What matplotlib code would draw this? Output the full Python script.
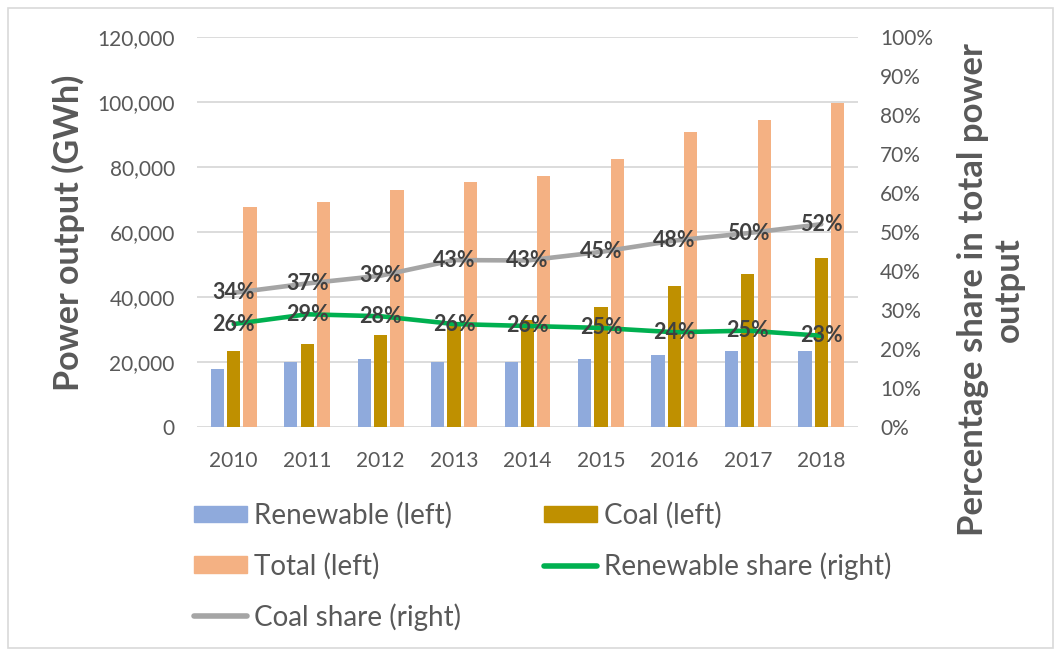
import matplotlib
matplotlib.use('Agg')
import matplotlib.pyplot as plt
import numpy as np
from matplotlib.patches import Patch, Rectangle
from matplotlib.lines import Line2D
from matplotlib.ticker import FuncFormatter

plt.rcParams['font.family'] = ['Lato', 'DejaVu Sans']

# data
years = ['2010', '2011', '2012', '2013', '2014', '2015', '2016', '2017', '2018']
renewable = [17800, 20000, 20900, 20000, 20000, 21000, 22050, 23300, 23400]
coal = [23400, 25500, 28300, 32200, 33000, 36800, 43400, 47000, 51900]
total = [67700, 69200, 73000, 75300, 77200, 82400, 90800, 94400, 99700]
renew_share = [0.264, 0.289, 0.284, 0.264, 0.259, 0.254, 0.243, 0.247, 0.234]
coal_share = [0.344, 0.368, 0.388, 0.428, 0.427, 0.449, 0.478, 0.497, 0.520]

c_ren = '#8FAADC'
c_coal = '#BF9000'
c_tot = '#F4B183'
c_green = '#00B050'
c_gray = '#A5A5A5'
c_txt = '#595959'
c_lab = '#404040'

fig = plt.figure(figsize=(10.61, 6.52), dpi=100)
fig.patches.append(Rectangle((8/1061, 4/652), 1045/1061, 640/652, transform=fig.transFigure,
                             fill=False, edgecolor='#D9D9D9', linewidth=1.2))

ax = fig.add_axes([197/1061, 1-427/652, 661/1061, 390/652])
x = np.arange(len(years))
w = 0.18
off = 0.222
ax.bar(x - off, renewable, w, color=c_ren, zorder=2)
ax.bar(x, coal, w, color=c_coal, zorder=2)
ax.bar(x + off, total, w, color=c_tot, zorder=2)

ax.set_xlim(-0.5, len(years) - 0.5)
ax.set_ylim(0, 120000)
ax.set_yticks(np.arange(0, 120001, 20000))
ax.yaxis.set_major_formatter(FuncFormatter(lambda v, p: f'{int(v):,}'))
ax.set_xticks(x)
ax.set_xticklabels(years)
ax.grid(axis='y', color='#D9D9D9', linewidth=1.3, zorder=0)
ax.set_axisbelow(True)
for s in ax.spines.values():
    s.set_visible(False)
ax.tick_params(axis='both', length=0, labelsize=15, labelcolor=c_txt)
ax.tick_params(axis='y', pad=16)
ax.tick_params(axis='x', pad=17)

fig.text(68/1061, 1-233/652, 'Power output (GWh)', rotation=90, ha='center', va='center',
         fontsize=24.5, fontweight='bold', color=c_txt)

ax2 = ax.twinx()
ax2.set_ylim(0, 1)
ax2.set_yticks(np.arange(0, 1.01, 0.1))
ax2.yaxis.set_major_formatter(FuncFormatter(lambda v, p: f'{v*100:.0f}%'))
for s in ax2.spines.values():
    s.set_visible(False)
ax2.tick_params(axis='y', length=0, labelsize=15, labelcolor=c_txt, pad=16)
ax2.plot(x, renew_share, color=c_green, linewidth=3.3, solid_capstyle='round', zorder=3)
ax2.plot(x, coal_share, color=c_gray, linewidth=3.3, solid_capstyle='round', zorder=3)
for xi, v in zip(x, renew_share):
    ax2.text(xi, v, f'{v*100:.0f}%', ha='center', va='center', fontsize=15.5,
             fontweight='bold', color=c_lab, zorder=5)
for xi, v in zip(x, coal_share):
    ax2.text(xi, v, f'{v*100:.0f}%', ha='center', va='center', fontsize=15.5,
             fontweight='bold', color=c_lab, zorder=5)

fig.text(991/1061, 1-290/652, 'Percentage share in total power\noutput', rotation=90,
         ha='center', va='center', fontsize=25, fontweight='bold', color=c_txt,
         multialignment='center', linespacing=1.15)

handles = [Patch(color=c_ren, label='Renewable (left)'),
           Patch(color=c_tot, label='Total (left)'),
           Line2D([], [], color=c_gray, linewidth=4, solid_capstyle='round', label='Coal share (right)'),
           Patch(color=c_coal, label='Coal (left)'),
           Line2D([], [], color=c_green, linewidth=4, solid_capstyle='round', label='Renewable share (right)')]
leg = fig.legend(handles=handles, ncol=2, loc='upper left', bbox_to_anchor=(194/1061, 1-502/652),
                 frameon=False, fontsize=20, handlelength=1.9, handleheight=0.55, handletextpad=0.25,
                 labelspacing=0.85, columnspacing=3.0, borderpad=0, borderaxespad=0)
for t in leg.get_texts():
    t.set_color(c_txt)

fig.savefig('out.png', dpi=100)
